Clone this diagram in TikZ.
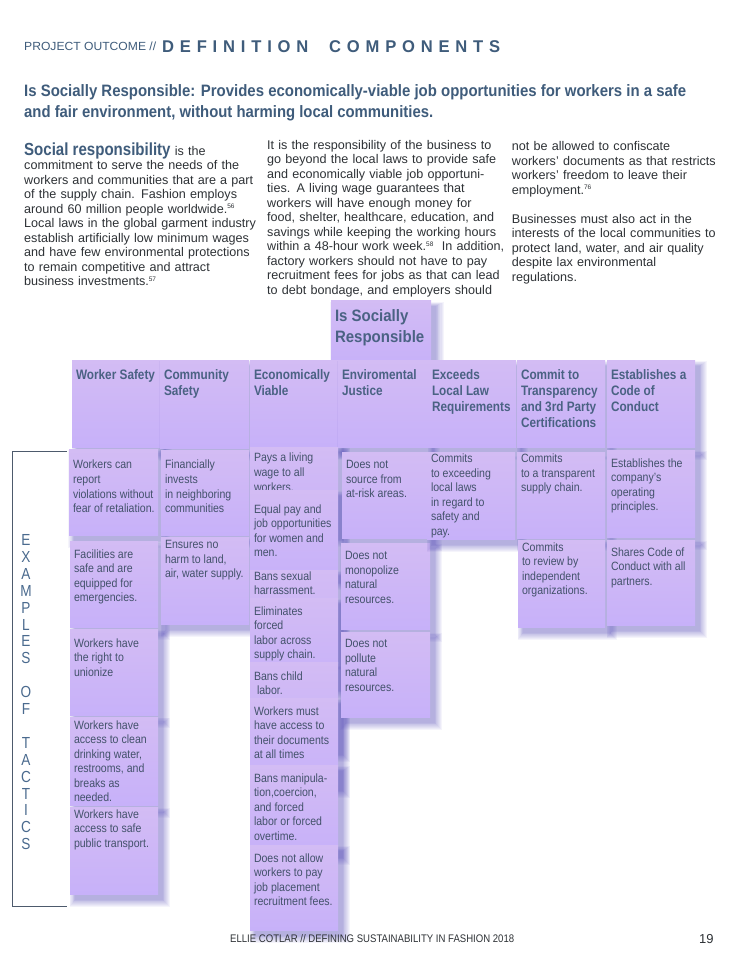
\documentclass[tikz,border=0pt]{standalone}
\usepackage{fontspec}
\usepackage{graphicx}
\setmainfont{Liberation Sans}
\newfontfamily\notefam[FakeStretch=0.88]{Liberation Sans}
\newfontfamily\headfam[FakeStretch=0.86]{Liberation Sans}
\newfontfamily\topfam[FakeStretch=0.91]{Liberation Sans}
\newfontfamily\bigfam[FakeStretch=0.86]{Liberation Sans}
\newfontfamily\vertfam[FakeStretch=0.85]{Liberation Sans}
\usetikzlibrary{shadows}
\definecolor{notetop}{HTML}{D3BCF4}
\definecolor{notebot}{HTML}{C7B1F9}
\definecolor{shc}{HTML}{4F45B8}
\definecolor{titleblue}{HTML}{3F5C7B}
\definecolor{notetxt}{HTML}{43526B}
\definecolor{headtxt}{HTML}{4A6283}
\definecolor{bodytxt}{HTML}{2E3236}
\definecolor{bracketc}{HTML}{4D5A6C}
\definecolor{vertc}{HTML}{4A6A8E}
\newcommand\fitw[2]{\resizebox{#1pt}{\height}{#2}}
\newcommand\fnum[1]{\raisebox{4.5pt}{\fontsize{6.5}{6.5}\selectfont #1}}
% sticky note: [style]{name}{x}{y}{w}{h}{toppad}{text}
\newcommand\stk[8][note]{%
  \node[#1] (#2) at (#3,#4) {\makebox[\dimexpr#5pt-8pt\relax][l]{%
    \begin{minipage}[t][#6pt][t]{\dimexpr#5pt+20pt\relax}\vspace*{#7pt}\raggedright #8\end{minipage}}};}
\tikzset{
  shl/.style={general shadow={fill=shc, opacity=0.055, shadow scale=#1, shadow xshift=5pt, shadow yshift=-6pt}},
  shsoft/.style={shl=1.14, shl=1.12, shl=1.10, shl=1.08, shl=1.06, shl=1.045, shl=1.03, shl=1.015, shl=1.0},
  note/.style={anchor=north west, inner xsep=4pt, inner ysep=0pt, outer sep=0pt,
    top color=notetop, bottom color=notebot, shsoft, text=notetxt,
    font=\notefam\fontsize{12}{14.5}\selectfont},
  headnote/.style={note, text=headtxt, font=\headfam\bfseries\fontsize{13.7}{16}\selectfont},
  topnote/.style={note, text=headtxt, font=\topfam\bfseries\fontsize{16.5}{21}\selectfont},
  bodycol/.style={anchor=north west, inner sep=0pt, text width=240pt, align=left, text=bodytxt,
    font=\fontsize{12.6}{14.5}\selectfont},
}
\begin{document}
\begin{tikzpicture}[x=1pt,y=-1pt]
\useasboundingbox (0,0) rectangle (742,960);
\fill[white] (0,0) rectangle (742,960);

% header
\node[anchor=base west, inner sep=0pt, text=titleblue] (proj) at (24,51)
  {\fitw{132}{\fontsize{11.8}{12}\selectfont PROJECT OUTCOME //}};
\node[anchor=base west, inner sep=0pt, text=titleblue] (defc) at (162,53)
  {\fitw{338}{\bfseries\fontsize{17}{17}\selectfont\addfontfeature{LetterSpace=35}DEFINITION\ \ COMPONENTS}};

% title
\node[anchor=base west, inner sep=0pt, text=titleblue] (title1) at (24,97)
  {\fitw{662}{\bfseries\fontsize{16.5}{20}\selectfont Is Socially Responsible: Provides economically-viable job opportunities for workers in a safe}};
\node[anchor=base west, inner sep=0pt, text=titleblue] (title2) at (24,118)
  {\fitw{409}{\bfseries\fontsize{16.5}{20}\selectfont and fair environment, without harming local communities.}};

% body columns
\node[bodycol] (col1) at (24,142.5) {{\bigfam\bfseries\fontsize{17.5}{14.5}\selectfont\color{titleblue}Social responsibility} is the\\
commitment to serve the needs of the\\
workers and communities that are a part\\
of the supply chain. Fashion employs\\
around 60 million people worldwide.\fnum{56}\\
Local laws in the global garment industry\\
establish artificially low minimum wages\\
and have few environmental protections\\
to remain competitive and attract\\
business investments.\fnum{57}};

\node[bodycol] (col2) at (267,139.8) {It is the responsibility of the business to\\
go beyond the local laws to provide safe\\
and economically viable job opportuni-\\
ties. A living wage guarantees that\\
workers will have enough money for\\
food, shelter, healthcare, education, and\\
savings while keeping the working hours\\
within a 48-hour work week.\fnum{58}\ \ In addition,\\
factory workers should not have to pay\\
recruitment fees for jobs as that can lead\\
to debt bondage, and employers should};

\node[bodycol] (col3) at (511.7,141.3) {not be allowed to confiscate\\
workers’ documents as that restricts\\
workers’ freedom to leave their\\
employment.\fnum{76}\\[14.5pt]
Businesses must also act in the\\
interests of the local communities to\\
protect land, water, and air quality\\
despite lax environmental\\
regulations.};

% top note
\stk[topnote]{isr}{331}{300}{100}{64}{10}{Is Socially\\Responsible}

% header row
\stk[headnote]{hws}{72}{360}{88}{87}{9.5}{Worker Safety}
\stk[headnote]{hcs}{160}{360}{89}{88}{9.5}{Community\\Safety}
\stk[headnote]{hev}{250}{360}{88}{86}{9.5}{Economically\\Viable}
\stk[headnote]{hej}{338}{360}{90}{87}{9.5}{Enviromental\\Justice}
\stk[headnote]{hel}{428}{360}{88}{87}{9.5}{Exceeds\\Local Law\\Requirements}
\stk[headnote]{htr}{517}{360}{88}{87}{9.5}{Commit to\\Transparency\\and 3rd Party\\Certifications}
\stk[headnote]{hcc}{607}{360}{88}{87}{9.5}{Establishes a\\Code of\\Conduct}

% worker safety column
\stk{ws1}{69}{449}{89}{86}{11.3}{Workers can\\report\\violations without\\fear of retaliation.}
\stk{ws2}{70}{541}{88}{86}{8.3}{Facilities are\\safe and are\\equipped for\\emergencies.}
\stk{ws3}{70}{629}{88}{86}{9.3}{Workers have\\the right to\\unionize}
\stk{ws4}{70}{717}{88}{88}{3.3}{Workers have\\access to clean\\drinking water,\\restrooms, and\\breaks as\\needed.}
\stk{ws5}{70}{807}{88}{87}{2.3}{Workers have\\access to safe\\public transport.}

% community safety column
\stk{cs1}{161}{450}{88}{85}{10.3}{Financially\\invests\\in neighboring\\communities}
\stk{cs2}{161}{537}{88}{87}{3.3}{Ensures no\\harm to land,\\air, water supply.}

% economically viable column
\stk{ev1}{250}{447}{88}{87}{6.3}{Pays a living\\wage to all\\workers.}
\stk{ev2}{250}{490}{88}{87}{14.3}{Equal pay and\\job opportunities\\for women and\\men.}
\stk{ev3}{250}{570}{88}{87}{1.3}{Bans sexual\\harrassment.}
\stk{ev4}{250}{598}{88}{87}{8.3}{Eliminates\\forced\\labor across\\supply chain.}
\stk{ev5}{250}{662}{88}{87}{9.3}{Bans child\\\hspace*{3pt}labor.}
\stk{ev6}{250}{698}{88}{87}{8.3}{Workers must\\have access to\\their documents\\at all times}
\stk{ev7}{250}{765}{88}{87}{8.3}{Bans manipula-\\tion,coercion,\\and forced\\labor or forced\\overtime.}
\stk{ev8}{250}{845}{88}{85}{8.3}{Does not allow\\workers to pay\\job placement\\recruitment fees.}

% environmental justice column
\stk{ej1}{342}{452}{88}{86}{8.3}{Does not\\source from\\at-risk areas.}
\stk{ej2}{341}{543}{89}{86}{8.3}{Does not\\monopolize\\natural\\resources.}
\stk{ej3}{341}{632}{89}{85}{7.3}{Does not\\pollute\\natural\\resources.}

% exceeds local law column
\stk{el1}{427}{452}{88}{87}{2.3}{Commits\\to exceeding\\local laws\\in regard to\\safety and\\pay.}

% transparency column
\stk{tr1}{517}{452}{88}{86}{2.3}{Commits\\to a transparent\\supply chain.}
\stk{tr2}{518}{540}{87}{87}{2.3}{Commits\\to review by\\independent\\organizations.}

% code of conduct column
\stk{cc1}{607}{450}{88}{87}{8.3}{Establishes the\\company’s\\operating\\principles.}
\stk{cc2}{607}{540}{88}{85}{7.3}{Shares Code of\\Conduct with all\\partners.}

% bracket and vertical label
\coordinate (bt) at (67,451);
\coordinate (bb) at (67,906);
\draw[bracketc, line width=0.9pt] (bt) -- (12.5,451) -- (12.5,906) -- (bb);
\node[anchor=north, inner sep=0pt, align=center, text=vertc,
  font=\vertfam\fontsize{16}{16.9}\selectfont] (tactics) at (26,534.3)
  {E\\X\\A\\M\\P\\L\\E\\S\\[16.9pt]O\\F\\[16.9pt]T\\A\\C\\T\\I\\C\\S};

% footer
\node[anchor=base west, inner sep=0pt, text=bodytxt] (foot) at (230,942)
  {\fitw{284}{\fontsize{11}{11}\selectfont ELLIE COTLAR // DEFINING SUSTAINABILITY IN FASHION 2018}};
\node[anchor=base west, inner sep=0pt, text=bodytxt, font=\fontsize{13}{13}\selectfont] (pnum) at (699,943) {19};
\end{tikzpicture}
\end{document}
